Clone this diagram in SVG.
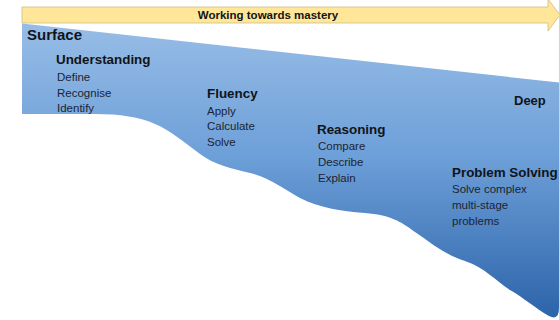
<svg xmlns="http://www.w3.org/2000/svg" width="559" height="320" viewBox="0 0 559 320">
  <style>
    .h { font-family: "Liberation Sans", Arial, sans-serif; font-weight: bold; font-size: 13.4px; fill: #111418; }
    .t { font-family: "Liberation Sans", Arial, sans-serif; font-size: 11.5px; fill: #1c2433; }
    .g { font-family: "Liberation Sans", Arial, sans-serif; font-weight: bold; fill: #111418; }
  </style>
  <defs>
    <linearGradient id="depth" gradientUnits="userSpaceOnUse" x1="0" y1="23" x2="0" y2="320">
      <stop offset="0" stop-color="#97bde6"/>
      <stop offset="0.45" stop-color="#6d9fd8"/>
      <stop offset="1" stop-color="#2b63a9"/>
    </linearGradient>
  </defs>
  <rect width="559" height="320" fill="#ffffff"/>

  <g id="depth-area">
    <path d="M22,23.5 L559,82.5 L559,308 Q559,321 549,316 C535,308 524,298 510,290 C495,280 485,268 465,261 C445,255 430,242 415,232 C400,221 390,215 365,213 C340,211 320,208 300,198 C285,190 270,178 250,173 C230,168 215,165 200,154 C185,143 170,130 155,124 C140,117 120,114 95,114 L22,114 Z" fill="url(#depth)"/>
  </g>

  <g id="mastery-arrow">
    <path d="M22,7 H548 V-1 L560,15 L548,31 V23 H22 Z" fill="#ffe699" stroke="#cdbd86" stroke-width="0.8"/>
    <text class="g" x="268" y="18.5" font-size="11.5" text-anchor="middle">Working towards mastery</text>
  </g>

  <g id="surface">
    <text class="g" x="27" y="40" font-size="15">Surface</text>
  </g>
  <g id="deep">
    <text class="g" x="514" y="105" font-size="13">Deep</text>
  </g>

  <g id="understanding">
    <text class="h" x="56" y="64" font-size="13.8">Understanding</text>
    <text class="t" x="57" y="81">Define</text>
    <text class="t" x="57" y="96.5">Recognise</text>
    <text class="t" x="57" y="112">Identify</text>
  </g>

  <g id="fluency">
    <text class="h" x="207" y="98">Fluency</text>
    <text class="t" x="207" y="114.5">Apply</text>
    <text class="t" x="207" y="130">Calculate</text>
    <text class="t" x="207" y="146">Solve</text>
  </g>

  <g id="reasoning">
    <text class="h" x="317" y="134">Reasoning</text>
    <text class="t" x="318" y="150">Compare</text>
    <text class="t" x="318" y="166">Describe</text>
    <text class="t" x="318" y="182">Explain</text>
  </g>

  <g id="problem-solving">
    <text class="h" x="452" y="177">Problem Solving</text>
    <text class="t" x="452" y="193">Solve complex</text>
    <text class="t" x="452" y="209">multi-stage</text>
    <text class="t" x="452" y="225">problems</text>
  </g>
</svg>
